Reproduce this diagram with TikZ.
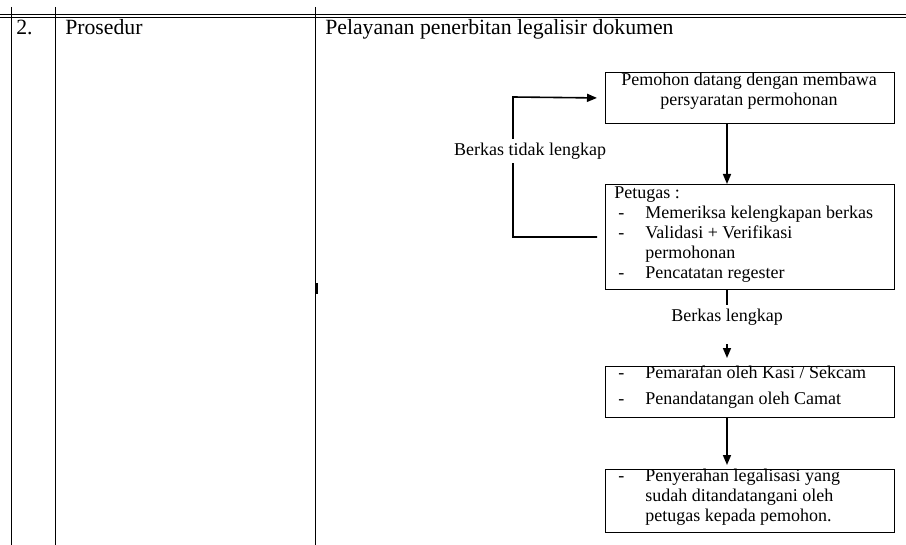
\documentclass[tikz,border=0pt]{standalone}
\usepackage{fontspec}
\setmainfont{Liberation Serif}
\usetikzlibrary{arrows.meta}

\newcommand{\dash}[1]{\makebox[23.25pt][l]{\hspace{3pt}-}#1}

\begin{document}
\begin{tikzpicture}[x=0.75pt,y=-0.75pt,
    rule/.style={line width=0.7pt},
    head/.style={inner sep=0pt,font=\fontsize{16.3}{19}\selectfont},
    box/.style={draw,line width=0.8pt,minimum width=216.75pt,anchor=north west,inner sep=0pt},
    txt/.style={inner sep=0pt,font=\fontsize{13.5}{15}\selectfont,align=left},
    arr/.style={line width=1.2pt,-{Triangle[width=6pt,length=7.5pt]}}]
        \useasboundingbox (0,0) rectangle (906,545);
        % table
        \draw[rule] (0,14) -- (906,14) (0,17) -- (906,17);
        \draw[rule] (11,7) -- (11,545) (55,7) -- (55,545) (315,7) -- (315,545);
        \fill (315.5,283) rectangle (318,294);
        \node[head,anchor=base west] (no) at (16,35) {2.};
        \node[head,anchor=base west] (jdl) at (65,35) {Prosedur};
        \node[head,anchor=base west] (isi) at (325,35) {Pelayanan penerbitan legalisir dokumen};
        % boxes
        \node[box,minimum height=38.25pt] (b1) at (605,72) {};
        \node[box,minimum height=78.75pt] (b2) at (605,184) {};
        \node[box,minimum height=38.25pt] (b3) at (605,366) {};
        \node[box,minimum height=47.25pt] (b4) at (605,469) {};
        \node[txt,align=center,anchor=north] (t1) at (749,73) {Pemohon datang dengan membawa\\persyaratan permohonan};
        \node[txt,anchor=north west] (t2) at (614,186) {Petugas :\\
              \dash{Memeriksa kelengkapan berkas}\\
              \dash{Validasi + Verifikasi}\\
              \hspace*{23.25pt}permohonan\\
              \dash{Pencatatan regester}};
        \node[txt,anchor=north west,font=\fontsize{13.5}{19.5}\selectfont] (t3) at (614,366) {\dash{Pemarafan oleh Kasi / Sekcam}\\
              \dash{Penandatangan oleh Camat}};
        \node[txt,anchor=north west] (t4) at (614,469) {\dash{Penyerahan legalisasi yang}\\
              \hspace*{23.25pt}sudah ditandatangani oleh\\
              \hspace*{23.25pt}petugas kepada pemohon.};
        % arrows
        \node[txt] (lk) at (727,317) {Berkas lengkap};
        \coordinate (k) at (513,97);
        \draw[arr] (b1.south -| lk) -- (b2.north -| lk);
        \draw[line width=1.2pt,shorten >=3pt] (b2.south -| lk) -- (lk.north);
        \draw[arr,shorten <=14pt,shorten >=6pt] (lk.south) -- (b3.north -| lk);
        \draw[arr,shorten >=3pt] (b3.south -| lk) -- (b4.north -| lk);
        \draw[arr,shorten <=6pt,shorten >=6pt] (b2.west) -| (k) -- (b1.west);
        \node[txt,fill=white,inner sep=3pt] (tl) at (530,151) {Berkas tidak lengkap};
\end{tikzpicture}
\end{document}
